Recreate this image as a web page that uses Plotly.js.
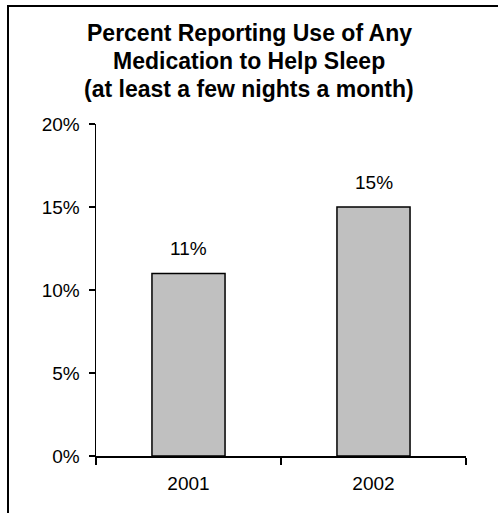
<!DOCTYPE html>
<html>
<head>
<meta charset="utf-8">
<script src="https://cdn.plot.ly/plotly-3.0.1.min.js"></script>
<style>
  html, body { margin: 0; padding: 0; background: #fff; }
  #wrap { position: relative; width: 498px; height: 513px; overflow: hidden; }
  #chart { position: absolute; left: 0; top: 0; width: 498px; height: 513px; }
  #frame {
    position: absolute; left: 7px; top: 5px; width: 600px; height: 600px;
    border-left: 2px solid #000; border-top: 2px solid #000;
    pointer-events: none;
  }
</style>
</head>
<body>
<div id="wrap">
  <div id="chart"></div>
  <div id="frame"></div>
</div>
<script>
// Share of respondents using any sleep medication, by survey year
const years = ['2001', '2002'];
const percentValues = [11, 15];
const yTickValues = [0, 5, 10, 15, 20];
const yTickLabels = ['0%', '5%', '10%', '15%', '20%'];
const titleLines = [
  'Percent Reporting Use of Any',
  'Medication to Help Sleep',
  '(at least a few nights a month)'
];

const FONT = 'Arial, "Liberation Sans", sans-serif';
const W = 498, H = 513;
const M = { l: 96, r: 32, t: 124, b: 57 };
const plotH = H - M.t - M.b;
// convert a pixel row (from top of page) to paper y
const paperY = px => (H - M.b - px) / plotH;

const idx = years.map((_, i) => i);

const trace = {
  type: 'bar',
  x: idx,
  y: percentValues,
  marker: { color: '#c0c0c0', line: { color: '#000', width: 1.5 } },
  hoverinfo: 'none'
};

// value labels sit a little above each bar
const valueLabels = idx.map(i => ({
  x: i, y: percentValues[i], xref: 'x', yref: 'y',
  text: percentValues[i] + '%',
  showarrow: false, yanchor: 'middle', yshift: 25,
  font: { family: FONT, size: 19, color: '#000' }
}));

// three-line bold heading, spaced like the original layout
const titleRows = [33.5, 61, 88.5];
const titleAnn = titleLines.map((t, i) => ({
  x: 0.5, xref: 'paper', xanchor: 'center',
  y: paperY(titleRows[i]), yref: 'paper', yanchor: 'middle',
  text: '<b>' + t + '</b>', showarrow: false,
  font: { family: FONT, size: 23, color: '#000' }
}));
// centre the heading on the whole page rather than the plot area
const plotW = W - M.l - M.r;
titleAnn.forEach(a => { a.x = (W / 2 - M.l) / plotW; });

const layout = {
  width: W, height: H,
  margin: M,
  paper_bgcolor: '#fff', plot_bgcolor: '#fff',
  showlegend: false,
  bargap: 0.605,
  font: { family: FONT, size: 19, color: '#000' },
  xaxis: {
    range: [-0.5, years.length - 0.5],
    tickvals: idx.concat([years.length]).map(v => v - 0.5),
    showticklabels: false,
    showline: true, linecolor: '#000', linewidth: 1.5,
    ticks: 'outside', ticklen: 7, tickwidth: 1.5, tickcolor: '#000',
    showgrid: false, zeroline: false, fixedrange: true
  },
  xaxis2: {
    overlaying: 'x', anchor: 'y', side: 'bottom',
    range: [-0.5, years.length - 0.5],
    tickvals: idx, ticktext: years,
    ticks: '', showline: false, showgrid: false, zeroline: false,
    tickfont: { family: FONT, size: 19, color: '#000' },
    ticklabelstandoff: 14
  },
  yaxis: {
    range: [0, 20],
    tickvals: yTickValues, ticktext: yTickLabels,
    showline: true, linecolor: '#000', linewidth: 1.5,
    ticks: 'outside', ticklen: 6, tickwidth: 1.5, tickcolor: '#000',
    showgrid: false, zeroline: false,
    tickfont: { family: FONT, size: 19, color: '#000' },
    ticklabelstandoff: 5
  },
  annotations: titleAnn.concat(valueLabels)
};

// an empty trace keeps the label axis drawn
const labelAxisTrace = { type: 'scatter', x: [], y: [], xaxis: 'x2', yaxis: 'y', hoverinfo: 'none' };

Plotly.newPlot('chart', [trace, labelAxisTrace], layout, { displayModeBar: false, staticPlot: true });
</script>
</body>
</html>
